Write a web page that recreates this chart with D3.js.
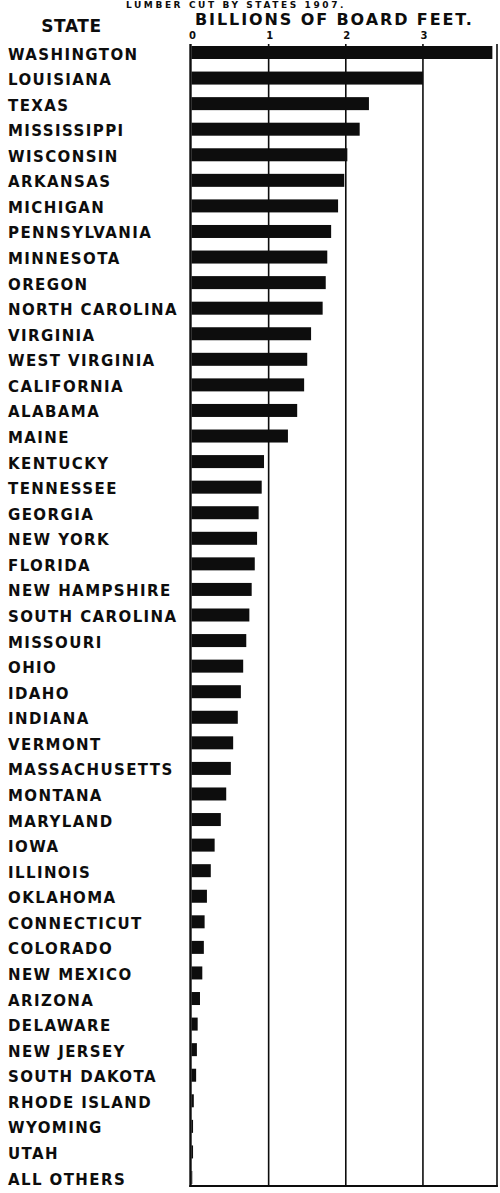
<!DOCTYPE html>
<html>
<head>
<meta charset="utf-8">
<script src="https://cdn.jsdelivr.net/npm/d3@7"></script>
<style>
  html, body { margin: 0; padding: 0; background: #fff; }
  svg { display: block; }
  text { font-family: "DejaVu Sans", sans-serif; font-weight: bold; fill: #0d0d0d; }
</style>
</head>
<body>
<svg id="chart" width="500" height="1193"></svg>
<script>
// ---- data (billions of board feet, 1907) ----
const states = [
  "WASHINGTON","LOUISIANA","TEXAS","MISSISSIPPI","WISCONSIN","ARKANSAS","MICHIGAN",
  "PENNSYLVANIA","MINNESOTA","OREGON","NORTH CAROLINA","VIRGINIA","WEST VIRGINIA",
  "CALIFORNIA","ALABAMA","MAINE","KENTUCKY","TENNESSEE","GEORGIA","NEW YORK","FLORIDA",
  "NEW HAMPSHIRE","SOUTH CAROLINA","MISSOURI","OHIO","IDAHO","INDIANA","VERMONT",
  "MASSACHUSETTS","MONTANA","MARYLAND","IOWA","ILLINOIS","OKLAHOMA","CONNECTICUT",
  "COLORADO","NEW MEXICO","ARIZONA","DELAWARE","NEW JERSEY","SOUTH DAKOTA",
  "RHODE ISLAND","WYOMING","UTAH","ALL OTHERS"
];
const cut = [
  3.90, 3.00, 2.30, 2.18, 2.02, 1.98, 1.90,
  1.81, 1.76, 1.74, 1.70, 1.55, 1.50,
  1.46, 1.37, 1.25, 0.94, 0.91, 0.87, 0.85, 0.82,
  0.78, 0.75, 0.71, 0.67, 0.64, 0.60, 0.54,
  0.51, 0.45, 0.38, 0.30, 0.25, 0.20, 0.17,
  0.16, 0.14, 0.11, 0.08, 0.07, 0.06,
  0.03, 0.02, 0.02, 0.01
];
const tickValues = [0, 1, 2, 3];
const tickLabels = ["0", "1", "2", "3"];
const gridValues = [1, 2, 3];
const X_MAX = 3.96;
const titleText = "LUMBER CUT BY STATES 1907.";
const unitText = "BILLIONS OF BOARD FEET.";
const stateHeader = "STATE";

// ---- layout ----
const svg = d3.select("#chart");
const plotTop = 44, plotBottom = 1186;
const x = d3.scaleLinear().domain([0, X_MAX]).range([191.5, 497]);
const y = d3.scalePoint().domain(states).range([52.5, 1177.5]);
const barH = 13;
const ink = "#0d0d0d";

// title (small, at the very top)
svg.append("text").attr("x", 236).attr("y", 8).attr("text-anchor", "middle")
  .style("font-size", "9px").style("letter-spacing", "2.6px")
  .text(titleText);

// headers
svg.append("text").attr("x", 71.5).attr("y", 32).attr("text-anchor", "middle")
  .style("font-size", "17px").style("letter-spacing", "0.6px")
  .text(stateHeader);
svg.append("text").attr("x", 195).attr("y", 25)
  .style("font-size", "16px").style("letter-spacing", "1.9px")
  .text(unitText);

// tick labels
svg.append("g").selectAll("text").data(tickValues).join("text")
  .attr("x", d => x(d) + 1).attr("y", 39).attr("text-anchor", "middle")
  .style("font-size", "10px")
  .text((d, i) => tickLabels[i]);

// grid lines
svg.append("g").selectAll("line").data(gridValues).join("line")
  .attr("x1", d => x(d)).attr("x2", d => x(d))
  .attr("y1", plotTop).attr("y2", plotBottom)
  .attr("stroke", ink).attr("stroke-width", 1.6);

// frame: left, right, bottom
svg.append("line").attr("x1", x(0) - 1).attr("x2", x(0) - 1)
  .attr("y1", plotTop).attr("y2", plotBottom + 1)
  .attr("stroke", ink).attr("stroke-width", 2.4);
svg.append("line").attr("x1", x(X_MAX)).attr("x2", x(X_MAX))
  .attr("y1", plotTop).attr("y2", plotBottom + 1)
  .attr("stroke", ink).attr("stroke-width", 1.6);
svg.append("line").attr("x1", x(0) - 2.2).attr("x2", x(X_MAX) + 0.8)
  .attr("y1", plotBottom).attr("y2", plotBottom)
  .attr("stroke", ink).attr("stroke-width", 2.2);

// bars
svg.append("g").selectAll("rect").data(states).join("rect")
  .attr("x", x(0))
  .attr("y", d => y(d) - barH / 2)
  .attr("width", (d, i) => x(cut[i]) - x(0))
  .attr("height", barH)
  .attr("fill", ink);

// state labels
svg.append("g").selectAll("text").data(states).join("text")
  .attr("x", 8)
  .attr("y", d => y(d) + 7)
  .style("font-size", "15px").style("letter-spacing", "1.4px")
  .text(d => d);
</script>
</body>
</html>
